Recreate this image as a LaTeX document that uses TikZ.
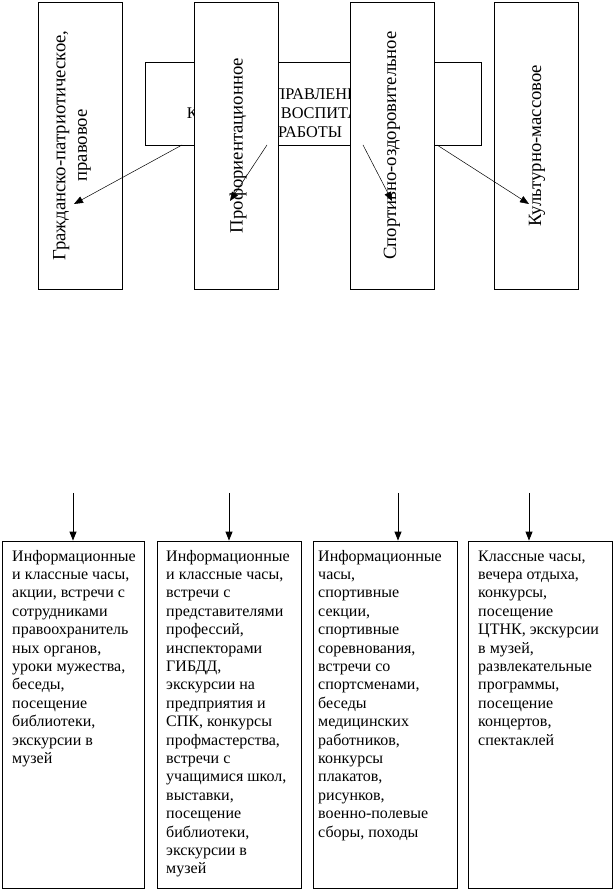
\documentclass[tikz,border=0pt]{standalone}
\usepackage{fontspec}
\setmainfont{Liberation Serif}
\usetikzlibrary{arrows.meta,calc}
\begin{document}
\begin{tikzpicture}[x=1pt,y=1pt,
  frame/.style={draw, line width=0.8pt, fill=white, inner sep=0pt},
  tallbox/.style={frame, minimum width=84pt, minimum height=287pt},
  lowbox/.style={frame, minimum height=347pt},
  arr/.style={-{Triangle[length=9pt,width=7pt]}, line width=0.5pt},
  darr/.style={-{Triangle[length=9pt,width=7pt]}, line width=0.9pt},
  vtext/.style={rotate=90, font=\fontsize{18.7}{21.5}\selectfont, align=center, inner sep=0pt},
  btext/.style={anchor=north west, inner sep=0pt, align=left, font=\fontsize{16}{18.4}\selectfont}]
\useasboundingbox (0,0) rectangle (614,890);
\fill[white] (0,0) rectangle (614,890);
% central box
\node[frame, minimum width=336pt, minimum height=83pt] (hub) at (313,786.5) {};
\node[align=center, inner sep=0pt, font=\fontsize{16.3}{18.8}\selectfont] (hubtext) at (310,777) {НАПРАВЛЕНИЯ\\КЛАССНОЙ ВОСПИТАТЕЛЬНОЙ\\РАБОТЫ};
% tall boxes
\node[tallbox] (g1) at (80,744.5) {};
\node[tallbox] (g2) at (236,744.5) {};
\node[tallbox] (g3) at (392,744.5) {};
\node[tallbox] (g4) at (536,744.5) {};
\node[vtext] (t1) at (72,744.5) {Гражданско-патриотическое,\\правовое};
\node[vtext] (t2) at (238,744.5) {Профориентационное};
\node[vtext] (t3) at (392,744.5) {Спортивно-оздоровительное};
\node[vtext] (t4) at (537,744.5) {Культурно-массовое};
% arrows from hub
\coordinate (a1s) at (182,745); \coordinate (a1e) at (74,686);
\coordinate (a2s) at (267,745); \coordinate (a2e) at (230,689);
\coordinate (a3s) at (363,745); \coordinate (a3e) at (392,689);
\coordinate (a4s) at (437,745); \coordinate (a4e) at (529,686);
\draw[arr] (a1s) -- (a1e);
\draw[arr] (a2s) -- (a2e);
\draw[arr] (a3s) -- (a3e);
\draw[arr] (a4s) -- (a4e);
% lower boxes
\node[lowbox, minimum width=142pt] (bA) at (73,175.5) {};
\node[lowbox, minimum width=144pt] (bB) at (229,175.5) {};
\node[lowbox, minimum width=144pt] (bC) at (385,175.5) {};
\node[lowbox, minimum width=144pt] (bD) at (540,175.5) {};
\coordinate (dA) at (73,397);
\coordinate (dB) at (229,397);
\coordinate (dC) at (398,397);
\coordinate (dD) at (529,397);
\draw[darr] (dA) -- (dA |- bA.north);
\draw[darr] (dB) -- (dB |- bB.north);
\draw[darr] (dC) -- (dC |- bC.north);
\draw[darr] (dD) -- (dD |- bD.north);
\node[btext] (xA) at (12,342) {\strut Информационные\\и классные часы,\\акции, встречи с\\сотрудниками\\правоохранитель\\ных органов,\\уроки мужества,\\беседы,\\посещение\\библиотеки,\\экскурсии в\\музей};
\node[btext] (xB) at (166,342) {\strut Информационные\\и классные часы,\\встречи с\\представителями\\профессий,\\инспекторами\\ГИБДД,\\экскурсии на\\предприятия и\\СПК, конкурсы\\профмастерства,\\встречи с\\учащимися школ,\\выставки,\\посещение\\библиотеки,\\экскурсии в\\музей};
\node[btext] (xC) at (318,342) {\strut Информационные\\часы,\\спортивные\\секции,\\спортивные\\соревнования,\\встречи со\\спортсменами,\\беседы\\медицинских\\работников,\\конкурсы\\плакатов,\\рисунков,\\военно-полевые\\сборы, походы};
\node[btext] (xD) at (478,342) {\strut Классные часы,\\вечера отдыха,\\конкурсы,\\посещение\\ЦТНК, экскурсии\\в музей,\\развлекательные\\программы,\\посещение\\концертов,\\спектаклей};
\end{tikzpicture}
\end{document}
